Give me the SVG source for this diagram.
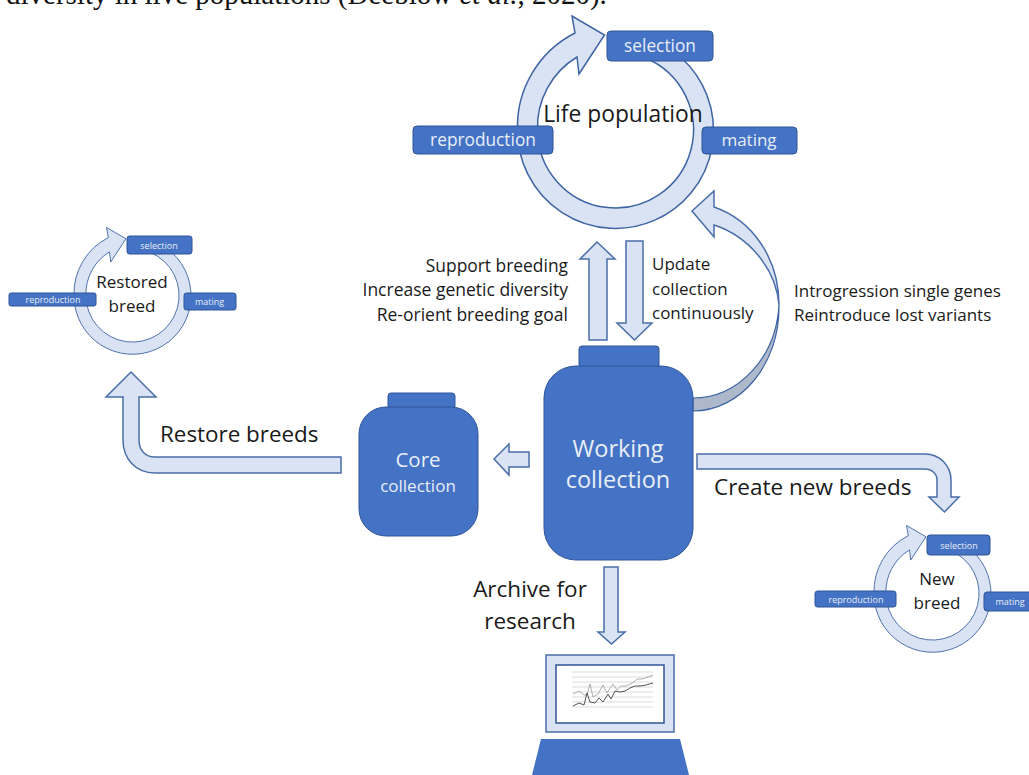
<svg xmlns="http://www.w3.org/2000/svg" width="1029" height="775" viewBox="0 0 1029 775">
<style>
.arrow{fill:#dae3f3;stroke:#4a6ea9;stroke-width:1.5;stroke-linejoin:miter}
.ring{fill:#dae3f3;stroke:#3e64a4;stroke-width:1.5;vector-effect:non-scaling-stroke}
.box{fill:#4472c4;stroke:#2f5597;stroke-width:1}
.t{font-family:"Open Sans","Noto Sans",sans-serif;fill:#1a1a1a}
.w{font-family:"Open Sans","Noto Sans",sans-serif;fill:#e8eef8;text-anchor:middle}
.m{text-anchor:middle}.e{text-anchor:end}
.grid{stroke:#c4c4c4;stroke-width:.6;fill:none}
</style>
<defs>
<path id="ringShape" d="M66,-72 A98,98 0 1 1 -98,0 A105,105 0 0 1 -40.500,-97 L-43.500,-114 L-11,-95 L-36.500,-56 L-38.500,-73 A82,82 0 0 0 -78,0 A78,78 0 1 0 30,-72 Z"/>
</defs>
<text x="6" y="4" font-family="'Liberation Serif',serif" font-size="29" fill="#111">diversity in live populations (Deeblow <tspan font-style="italic">et al.</tspan>, 2020).</text>

<g id="connectors">
<path class="arrow" d="M589,340 V259 H580 L597,242 L615,259 H607 V340 Z"/>
<path class="arrow" d="M626,241 H643 V323 H652 L634.500,340 L617,323 H626 Z"/>
<path class="arrow" d="M529,452 V467 H509 V475 L494,459 L509,444 V452 Z"/>
<path class="arrow" d="M341,457 V473 H155 C135,473 123,458 123,440 V397 H106 L131,372 L156,397 H139 V440 C139,450 145,457 155,457 Z"/>
<path class="arrow" d="M697,454 H925 C940,454 951,466 951,480 V497 H959 L944.500,512 L929,497 H937 V480 C937,474 932,469 925,469 H697 Z"/>
<path class="arrow" d="M604,567 H618 V632 H625 L611.500,644 L598,632 H604 Z"/>
<path d="M693,398 C738,398 776,358 779,305 C780,365 740,411 693,411 Z" fill="#adb9ca" stroke="#3e64a4" stroke-width="1.200"/>
<path class="arrow" d="M714,207 C752,220 779,258 779,305 C776,268 748,236 714,225 V237 L692,211 L714,191 Z"/>
</g>

<g id="life-population">
<use href="#ringShape" class="ring" transform="translate(615.500,130)"/>
<rect class="box" x="607" y="31" width="106" height="30" rx="4"/>
<rect class="box" x="413" y="126" width="140" height="28" rx="4"/>
<rect class="box" x="702" y="127" width="95" height="27" rx="4"/>
<text class="w" x="660" y="52" font-size="17.300">selection</text>
<text class="w" x="483" y="146" font-size="17.300">reproduction</text>
<text class="w" x="749" y="146" font-size="17">mating</text>
<text class="t m" x="623" y="122" font-size="22.800">Life population</text>
</g>

<g id="restored-breed">
<use href="#ringShape" class="ring" transform="translate(132.500,295.500) scale(.597)"/>
<rect class="box" x="127" y="236" width="65" height="18" rx="2.500"/>
<rect class="box" x="9" y="293" width="87" height="13" rx="2"/>
<rect class="box" x="184" y="293" width="52" height="17" rx="2.500"/>
<text class="w" x="159" y="249" font-size="9">selection</text>
<text class="w" x="53" y="303" font-size="9">reproduction</text>
<text class="w" x="209.500" y="305" font-size="9">mating</text>
<text class="t m" x="132" y="288" font-size="17">Restored</text>
<text class="t m" x="132" y="312" font-size="17">breed</text>
</g>

<g id="new-breed">
<use href="#ringShape" class="ring" transform="translate(932.500,593.500) scale(.597)"/>
<rect class="box" x="927" y="535" width="63" height="20" rx="3"/>
<rect class="box" x="815" y="591" width="81" height="16" rx="2.500"/>
<rect class="box" x="984" y="592" width="50" height="19" rx="3"/>
<text class="w" x="959" y="549" font-size="9">selection</text>
<text class="w" x="856" y="603" font-size="9">reproduction</text>
<text class="w" x="1010" y="605" font-size="9">mating</text>
<text class="t m" x="937" y="585" font-size="17">New</text>
<text class="t m" x="937" y="609" font-size="17">breed</text>
</g>

<g id="core-collection">
<rect class="box" x="388" y="393" width="67" height="16" rx="3"/>
<rect class="box" x="359" y="407" width="119" height="129" rx="27"/>
<text class="w" x="418" y="467" font-size="20.500">Core</text>
<text class="w" x="418" y="492" font-size="17">collection</text>
</g>

<g id="working-collection">
<rect class="box" x="579" y="346" width="80" height="22" rx="3"/>
<rect class="box" x="544" y="366" width="149" height="194" rx="32"/>
<text class="w" x="618" y="457" font-size="23.500">Working</text>
<text class="w" x="618" y="488" font-size="23.500">collection</text>
</g>

<g id="labels">
<text class="t e" x="568" y="272" font-size="17.400">Support breeding</text>
<text class="t e" x="568" y="296" font-size="17.500">Increase genetic diversity</text>
<text class="t e" x="568" y="321" font-size="17.500">Re-orient breeding goal</text>
<text class="t" x="652" y="270" font-size="17">Update</text>
<text class="t" x="652" y="295" font-size="17">collection</text>
<text class="t" x="652" y="319" font-size="17">continuously</text>
<text class="t" x="794" y="297" font-size="17">Introgression single genes</text>
<text class="t" x="794" y="321" font-size="17">Reintroduce lost variants</text>
<text class="t" x="160" y="442" font-size="22.400">Restore breeds</text>
<text class="t" x="714" y="495" font-size="22.500">Create new breeds</text>
<text class="t m" x="530" y="597" font-size="22.500">Archive for</text>
<text class="t m" x="530" y="629" font-size="22.500">research</text>
</g>

<g id="computer">
<rect x="546" y="655" width="128" height="77" fill="#dae3f3" stroke="#4a6ea9" stroke-width="1.500"/>
<rect x="556" y="665" width="108" height="58" fill="#fff" stroke="#2f5597" stroke-width="1.500"/>
<path class="grid" d="M572,672 H653 M572,677 H653 M572,682 H653 M572,687 H653 M572,692 H653 M572,697 H653 M572,702 H653 M572,707 H653"/>
<path fill="none" stroke="#9a9a9a" stroke-width=".8" d="M573,694 L579,691 L584,695 L587,695 L590,684 L593,697 L598,694 L603,685 L607,693 L613,684 L617,690 L621,686 L626,686 L630,684 L634,682 L637,679 L642,679 L648,677 L653,675"/>
<path fill="none" stroke="#555" stroke-width="1" d="M573,706 L579,703 L584,705 L587,693 L590,702 L595,703 L599,698 L603,702 L608,694 L611,699 L615,691 L620,692 L625,691 L630,688 L635,686 L640,686 L646,685 L653,683"/>
<path d="M541,739 H680 L689,775 H532 Z" fill="#4472c4"/>
</g>
</svg>
